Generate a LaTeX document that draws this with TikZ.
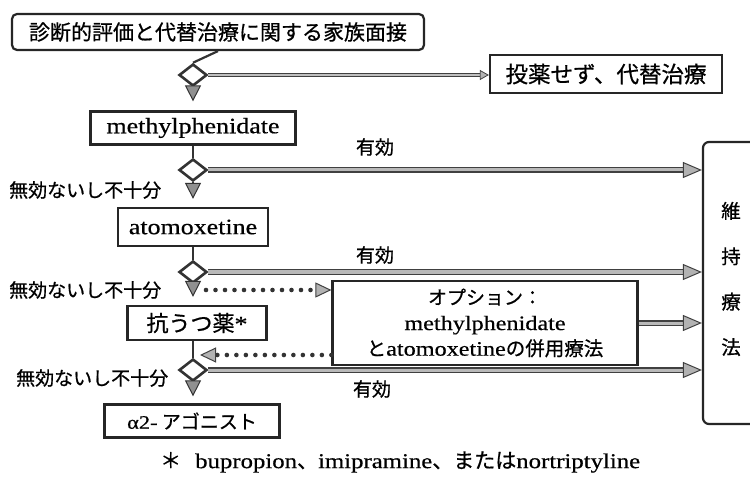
\documentclass[tikz,border=0pt]{standalone}
\usepackage{fontspec}
\setmainfont{Liberation Serif}[FakeStretch=1.18,FakeBold=0.5]
\newfontfamily\jp{Noto Sans CJK JP}[FakeBold=0.7]
\usetikzlibrary{shapes.geometric,arrows.meta}
\newcommand{\fsz}[1]{\fontsize{#1bp}{1.2\dimexpr #1bp\relax}\selectfont}
\tikzset{
  box/.style={draw=black!85, line width=2.2bp, fill=white, inner sep=0pt},
  dia/.style={shape=diamond, draw=black!80, line width=2.6bp, fill=white, minimum width=28bp, minimum height=22bp, inner sep=0pt},
  thinline/.style={draw=black!80, line width=2.2bp},
  downarrow/.style={draw=black!80, line width=2.2bp, -{Triangle[length=16bp,width=16bp,fill=gray!55!black!60,color=black!80,line width=1bp]}},
  bigarrow/.style={draw=black!75, line width=1.3bp, double=gray!55, double distance=3bp, -{Triangle[length=19bp,width=16bp,fill=gray!60,color=black!75,line width=1bp]}},
  smallarrow/.style={draw=black!75, line width=1.1bp, double=gray!50, double distance=1.4bp, -{Triangle[length=9bp,width=10bp,fill=gray!60,color=black!75,line width=0.8bp]}},
  dotarrow/.style={draw=black!80, line width=4.6bp, line cap=round, dash pattern=on 0bp off 9.5bp, -{Triangle[length=16bp,width=15bp,fill=gray!60,color=black!75,line width=1bp]}},
  lbl/.style={inner sep=0pt, font=\jp\fsz{19}},
}
\begin{document}
\begin{tikzpicture}[x=1bp,y=-1bp]
\useasboundingbox (0,0) rectangle (750,488);
% boxes
\node[box, rounded corners=5bp, minimum width=412bp, minimum height=36bp, font=\jp\fsz{21}] (top) at (218,32) {診断的評価と代替治療に関する家族面接};
\node[box, minimum width=232bp, minimum height=38bp, font=\jp\fsz{22.5}] (nodrug) at (606,74) {投薬せず、代替治療};
\node[box, minimum width=205bp, minimum height=33bp, font=\fsz{22}] (methyl) at (193,128) {methylphenidate};
\node[box, minimum width=150bp, minimum height=38bp, font=\fsz{22}] (atomox) at (193,227) {atomoxetine};
\node[box, minimum width=139bp, minimum height=34bp, font=\fsz{22}] (antidep) at (197,323) {{\jp 抗うつ薬}*};
\node[box, minimum width=175bp, minimum height=33bp, font=\fsz{19}] (alpha) at (192,421) {α2-{\jp\fsz{19} アゴニスト}};
\node[box, minimum width=305bp, minimum height=84bp, font=\fsz{20.5}, align=center] (option) at (485,323)
  {{\jp\fsz{19}オプション：}\\[1bp]methylphenidate\\[1bp]{\jp\fsz{19.5}と}atomoxetine{\jp\fsz{19.5}の併用療法}};
\node[box, rounded corners=6bp, minimum width=70bp, minimum height=282bp] (maint) at (738,283) {};
\node[inner sep=0pt, align=center, font=\jp\fsz{19.5}] (mtext) at (731,279) {維\\[22bp]持\\[22bp]療\\[22bp]法};
% diamonds
\node[dia] (d1) at (193,75) {};
\node[dia] (d2) at (193,170) {};
\node[dia] (d3) at (193,272) {};
\node[dia] (d4) at (193,370) {};
% labels
\node[lbl] (e1) at (375,147) {有効};
\node[lbl] (e2) at (375,255) {有効};
\node[lbl] (e3) at (372,389) {有効};
\node[lbl, anchor=west] (n1) at (9,190) {無効ないし不十分};
\node[lbl, anchor=west] (n2) at (9,290) {無効ないし不十分};
\node[lbl, anchor=west] (n3) at (16,378) {無効ないし不十分};
\node[inner sep=0pt, anchor=west, font=\fsz{21}] (foot) at (160,462) {{\jp ＊}\hspace{14bp}bupropion{\jp 、}imipramine{\jp 、または}nortriptyline};
% vertical connectors
\draw[thinline] (top.south) -- (d1.north);
\draw[downarrow, shorten >=9bp] (d1.south) -- (methyl.north);
\draw[thinline] (methyl.south) -- (d2.north);
\draw[downarrow, shorten >=8bp] (d2.south) -- (atomox.north);
\draw[thinline] (atomox.south) -- (d3.north);
\draw[downarrow, shorten >=8bp] (d3.south) -- (antidep.north -| d3.south);
\draw[thinline] (antidep.south -| d4.north) -- (d4.north);
\draw[downarrow, shorten >=7bp] (d4.south) -- (alpha.north -| d4.south);
% horizontal connectors
\draw[smallarrow] (d1.east) -- (nodrug.west |- d1.east);
\draw[bigarrow] (d2.east) -- (maint.west |- d2.east);
\draw[bigarrow] (d3.east) -- (maint.west |- d3.east);
\draw[bigarrow] (d4.east) -- (maint.west |- d4.east);
\draw[bigarrow] (option.east) -- (maint.west |- option.east);
% dotted connectors
\coordinate (dsa) at (206,290);
\coordinate (dsb) at (200,355);
\draw[dotarrow] (dsa) -- (option.west |- dsa);
\draw[dotarrow] (option.west |- dsb) -- (dsb);
\end{tikzpicture}
\end{document}
